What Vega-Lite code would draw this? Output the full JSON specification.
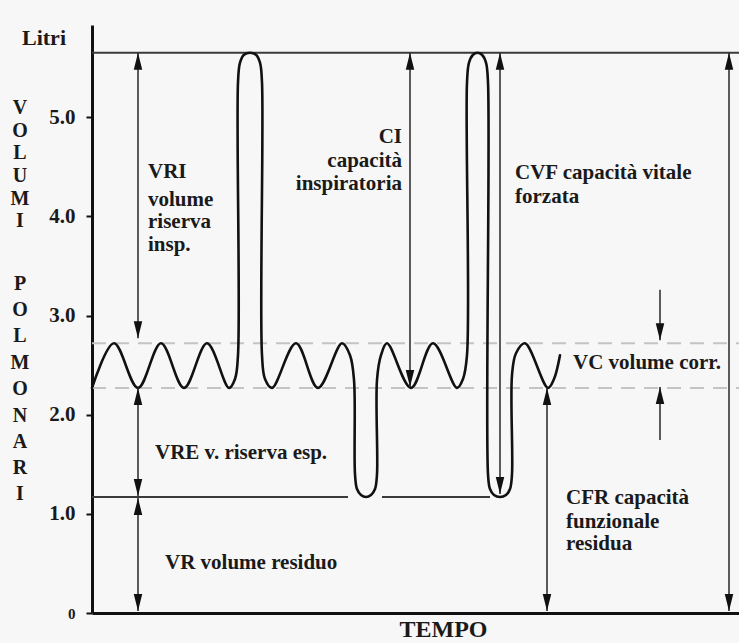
{
  "$schema": "https://vega.github.io/schema/vega-lite/v6.json",
  "width": 647,
  "height": 588,
  "autosize": {"type": "none"},
  "padding": {"left": 92, "top": 25, "right": 0, "bottom": 30},
  "background": "#f7f7f7",
  "config": {
    "view": {"stroke": null},
    "text": {"font": "Liberation Serif, Times New Roman, serif", "fontWeight": "bold", "fontSize": 21, "color": "#1a1a1a", "baseline": "middle"}
  },
  "datasets": {
    "dashed": [
      {"x": 0, "x2": 647, "y": 2.72},
      {"x": 0, "x2": 647, "y": 2.27}
    ],
    "hlines": [
      {"x": 0, "x2": 647, "y": 5.65},
      {"x": 0, "x2": 256, "y": 1.17},
      {"x": 290, "x2": 398, "y": 1.17}
    ],
    "curve": [
      {"i": 1, "x": 0, "y": 2.27},
      {"i": 2, "x": 22, "y": 2.72},
      {"i": 3, "x": 46, "y": 2.27},
      {"i": 4, "x": 69, "y": 2.72},
      {"i": 5, "x": 92, "y": 2.27},
      {"i": 6, "x": 115, "y": 2.72},
      {"i": 7, "x": 137, "y": 2.27},
      {"i": 8, "x": 143, "y": 2.36},
      {"i": 9, "x": 146, "y": 2.6},
      {"i": 10, "x": 146, "y": 5.35},
      {"i": 11, "x": 148, "y": 5.55},
      {"i": 12, "x": 152, "y": 5.63},
      {"i": 13, "x": 158, "y": 5.65},
      {"i": 14, "x": 164, "y": 5.63},
      {"i": 15, "x": 168, "y": 5.55},
      {"i": 16, "x": 170, "y": 5.35},
      {"i": 17, "x": 170, "y": 2.6},
      {"i": 18, "x": 173, "y": 2.36},
      {"i": 19, "x": 180, "y": 2.27},
      {"i": 20, "x": 204, "y": 2.72},
      {"i": 21, "x": 226, "y": 2.27},
      {"i": 22, "x": 250, "y": 2.72},
      {"i": 23, "x": 258, "y": 2.6},
      {"i": 24, "x": 262, "y": 2.35},
      {"i": 25, "x": 263, "y": 1.4},
      {"i": 26, "x": 265, "y": 1.25},
      {"i": 27, "x": 269, "y": 1.19},
      {"i": 28, "x": 274, "y": 1.17},
      {"i": 29, "x": 279, "y": 1.19},
      {"i": 30, "x": 283, "y": 1.25},
      {"i": 31, "x": 285, "y": 1.4},
      {"i": 32, "x": 285, "y": 2.35},
      {"i": 33, "x": 289, "y": 2.6},
      {"i": 34, "x": 295, "y": 2.72},
      {"i": 35, "x": 319, "y": 2.27},
      {"i": 36, "x": 341, "y": 2.72},
      {"i": 37, "x": 365, "y": 2.27},
      {"i": 38, "x": 371, "y": 2.36},
      {"i": 39, "x": 375, "y": 2.6},
      {"i": 40, "x": 375, "y": 5.35},
      {"i": 41, "x": 377, "y": 5.55},
      {"i": 42, "x": 381, "y": 5.63},
      {"i": 43, "x": 385.5, "y": 5.65},
      {"i": 44, "x": 390, "y": 5.63},
      {"i": 45, "x": 394, "y": 5.55},
      {"i": 46, "x": 396, "y": 5.35},
      {"i": 47, "x": 396, "y": 1.4},
      {"i": 48, "x": 398, "y": 1.25},
      {"i": 49, "x": 402, "y": 1.19},
      {"i": 50, "x": 408, "y": 1.17},
      {"i": 51, "x": 414, "y": 1.19},
      {"i": 52, "x": 418, "y": 1.25},
      {"i": 53, "x": 420, "y": 1.4},
      {"i": 54, "x": 420, "y": 2.4},
      {"i": 55, "x": 424, "y": 2.62},
      {"i": 56, "x": 433, "y": 2.72},
      {"i": 57, "x": 456, "y": 2.27},
      {"i": 58, "x": 462, "y": 2.36},
      {"i": 59, "x": 468, "y": 2.6}
    ],
    "shafts": [
      {"x": 46, "y": 5.65, "y2": 2.77},
      {"x": 46, "y": 2.27, "y2": 1.18},
      {"x": 46, "y": 1.16, "y2": 0.02},
      {"x": 318, "y": 5.65, "y2": 2.28},
      {"x": 408, "y": 5.65, "y2": 1.2},
      {"x": 455, "y": 2.27, "y2": 0.02},
      {"x": 637, "y": 5.65, "y2": 0.02},
      {"x": 568, "y": 3.26, "y2": 2.75},
      {"x": 568, "y": 2.28, "y2": 1.745}
    ],
    "heads": [
      {"x": 46, "y": 5.65, "d": "up"},
      {"x": 46, "y": 2.77, "d": "down"},
      {"x": 46, "y": 2.27, "d": "up"},
      {"x": 46, "y": 1.18, "d": "down"},
      {"x": 46, "y": 1.16, "d": "up"},
      {"x": 46, "y": 0.02, "d": "down"},
      {"x": 318, "y": 5.65, "d": "up"},
      {"x": 318, "y": 2.28, "d": "down"},
      {"x": 408, "y": 5.65, "d": "up"},
      {"x": 408, "y": 1.2, "d": "down"},
      {"x": 455, "y": 2.27, "d": "up"},
      {"x": 455, "y": 0.02, "d": "down"},
      {"x": 637, "y": 5.65, "d": "up"},
      {"x": 637, "y": 0.02, "d": "down"},
      {"x": 568, "y": 2.75, "d": "down"},
      {"x": 568, "y": 2.28, "d": "up"}
    ],
    "labelsLeft": [
      {"x": 56, "y": 4.45, "t": "VRI"},
      {"x": 56, "y": 4.165, "t": "volume"},
      {"x": 56, "y": 3.94, "t": "riserva"},
      {"x": 56, "y": 3.71, "t": "insp."},
      {"x": 423, "y": 4.437, "t": "CVF capacità vitale"},
      {"x": 423, "y": 4.195, "t": "forzata"},
      {"x": 481, "y": 2.52, "t": "VC volume corr."},
      {"x": 63, "y": 1.614, "t": "VRE v. riserva esp."},
      {"x": 73, "y": 0.504, "t": "VR volume residuo"},
      {"x": 474, "y": 1.16, "t": "CFR capacità"},
      {"x": 474, "y": 0.918, "t": "funzionale"},
      {"x": 474, "y": 0.696, "t": "residua"}
    ],
    "labelsRight": [
      {"x": 310, "y": 4.8, "t": "CI"},
      {"x": 310, "y": 4.558, "t": "capacità"},
      {"x": 310, "y": 4.326, "t": "inspiratoria"}
    ],
    "letters": [
      {"x": -72, "y": 5.09, "t": "V"},
      {"x": -72, "y": 4.86, "t": "O"},
      {"x": -72, "y": 4.64, "t": "L"},
      {"x": -72, "y": 4.41, "t": "U"},
      {"x": -72, "y": 4.18, "t": "M"},
      {"x": -72, "y": 3.95, "t": "I"},
      {"x": -72, "y": 3.32, "t": "P"},
      {"x": -72, "y": 3.06, "t": "O"},
      {"x": -72, "y": 2.79, "t": "L"},
      {"x": -72, "y": 2.52, "t": "M"},
      {"x": -72, "y": 2.26, "t": "O"},
      {"x": -72, "y": 1.99, "t": "N"},
      {"x": -72, "y": 1.72, "t": "A"},
      {"x": -72, "y": 1.46, "t": "R"},
      {"x": -72, "y": 1.2, "t": "I"}
    ],
    "unit": [
      {"x": -70, "y": 5.8, "t": "Litri"}
    ]
  },
  "encoding": {
    "x": {
      "field": "x",
      "type": "quantitative",
      "scale": {"domain": [0, 647], "nice": false, "zero": false},
      "axis": {
        "domain": true,
        "domainColor": "#111",
        "domainWidth": 3,
        "ticks": false,
        "labels": false,
        "grid": false,
        "title": "TEMPO",
        "titleFont": "Liberation Serif, Times New Roman, serif",
        "titleFontWeight": "bold",
        "titleFontSize": 24,
        "titleColor": "#1a1a1a",
        "titleX": 351,
        "titleY": 16,
        "titleAlign": "center",
        "titleBaseline": "middle"
      }
    },
    "y": {
      "field": "y",
      "type": "quantitative",
      "scale": {"domain": [0, 5.93], "nice": false, "zero": true},
      "axis": {
        "values": [0, 1, 2, 3, 4, 5],
        "labelExpr": "datum.value == 0 ? '0' : format(datum.value, '.1f')",
        "labelFont": "Liberation Serif, Times New Roman, serif",
        "labelFontWeight": "bold",
        "labelFontSize": {"condition": {"test": "datum.value == 0", "value": 15}, "value": 21},
        "labelColor": "#1a1a1a",
        "labelPadding": 11,
        "tickSize": 6,
        "tickWidth": 2,
        "tickColor": "#111",
        "domainColor": "#111",
        "domainWidth": 3,
        "grid": false,
        "title": null
      }
    }
  },
  "layer": [
    {
      "data": {"name": "dashed"},
      "mark": {"type": "rule", "color": "#c4c4c4", "strokeWidth": 2, "strokeDash": [14, 9]},
      "encoding": {"x2": {"field": "x2"}}
    },
    {
      "data": {"name": "hlines"},
      "mark": {"type": "rule", "color": "#3a3a3a", "strokeWidth": 2},
      "encoding": {"x2": {"field": "x2"}}
    },
    {
      "data": {"name": "curve"},
      "mark": {"type": "line", "color": "#111", "strokeWidth": 2.6, "interpolate": "catmull-rom", "strokeJoin": "round", "strokeCap": "round"},
      "encoding": {"order": {"field": "i", "type": "quantitative"}}
    },
    {
      "data": {"name": "shafts"},
      "mark": {"type": "rule", "color": "#333", "strokeWidth": 1.6},
      "encoding": {"y2": {"field": "y2"}}
    },
    {
      "data": {"name": "heads"},
      "mark": {"type": "point", "filled": true, "size": 100, "opacity": 1, "color": "#111", "strokeWidth": 0},
      "encoding": {
        "shape": {
          "field": "d",
          "type": "nominal",
          "scale": {"domain": ["up", "down"], "range": ["M0,0L-0.85,3.4L0.85,3.4Z", "M0,0L-0.85,-3.4L0.85,-3.4Z"]},
          "legend": null
        }
      }
    },
    {
      "data": {"name": "labelsLeft"},
      "mark": {"type": "text", "align": "left"},
      "encoding": {"text": {"field": "t"}}
    },
    {
      "data": {"name": "labelsRight"},
      "mark": {"type": "text", "align": "right"},
      "encoding": {"text": {"field": "t"}}
    },
    {
      "data": {"name": "letters"},
      "mark": {"type": "text", "align": "center", "fontSize": 20},
      "encoding": {"text": {"field": "t"}}
    },
    {
      "data": {"name": "unit"},
      "mark": {"type": "text", "align": "left", "fontSize": 22},
      "encoding": {"text": {"field": "t"}}
    }
  ]
}
